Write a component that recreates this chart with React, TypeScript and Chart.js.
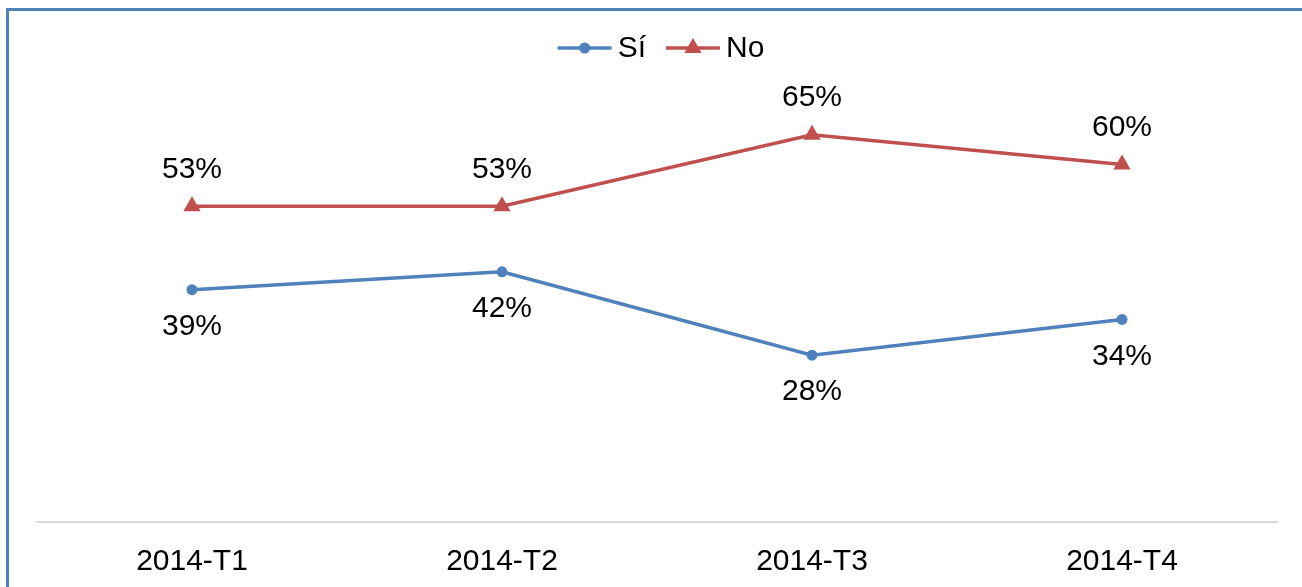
import React, { useEffect, useRef } from "react";
import { Chart, registerables } from "chart.js";

Chart.register(...registerables);

const categories = ["2014-T1", "2014-T2", "2014-T3", "2014-T4"];
const siValues = [39, 42, 28, 34];
const noValues = [53, 53, 65, 60];
const seriesNames = ["Sí", "No"];

const FONT = "'Liberation Sans', Arial, sans-serif";
const BLUE = "#4F81BD";
const RED = "#C0504D";

const labelsPlugin = {
  id: "valueLabels",
  afterDatasetsDraw(chart: any) {
    const ctx = chart.ctx;
    ctx.save();
    ctx.font = `30px ${FONT}`;
    ctx.fillStyle = "#000";
    ctx.textAlign = "center";
    ctx.textBaseline = "middle";
    chart.data.datasets.forEach((ds: any, di: number) => {
      const meta = chart.getDatasetMeta(di);
      meta.data.forEach((pt: any, i: number) => {
        const off = di === 0 ? 37 : -37;
        ctx.fillText(ds.data[i] + "%", pt.x, pt.y + off);
      });
    });
    ctx.restore();
  },
};

const legendPlugin = {
  id: "customLegend",
  afterDraw(chart: any) {
    const ctx = chart.ctx;
    ctx.save();
    ctx.font = `30px ${FONT}`;
    const lineLen = 54;
    const gapText = 6;
    const gapItem = 20;
    const items = chart.data.datasets.map((ds: any) => ({
      ds,
      w: ctx.measureText(ds.label).width,
    }));
    let total = 0;
    items.forEach((it: any, i: number) => {
      total += lineLen + gapText + it.w + (i < items.length - 1 ? gapItem : 0);
    });
    let x = 661 - total / 2;
    const y = 48;
    items.forEach((it: any) => {
      const ds = it.ds;
      ctx.strokeStyle = ds.borderColor;
      ctx.lineWidth = 3.5;
      ctx.beginPath();
      ctx.moveTo(x, y);
      ctx.lineTo(x + lineLen, y);
      ctx.stroke();
      ctx.fillStyle = ds.borderColor;
      const cx = x + lineLen / 2;
      if (ds.pointStyle === "triangle") {
        const r = 10;
        ctx.beginPath();
        ctx.moveTo(cx, y - r);
        ctx.lineTo(cx + r * 0.866, y + r / 2);
        ctx.lineTo(cx - r * 0.866, y + r / 2);
        ctx.closePath();
        ctx.fill();
      } else {
        ctx.beginPath();
        ctx.arc(cx, y, 5.5, 0, Math.PI * 2);
        ctx.fill();
      }
      ctx.fillStyle = "#000";
      ctx.textAlign = "left";
      ctx.textBaseline = "middle";
      ctx.fillText(ds.label, x + lineLen + gapText, y + 1);
      x += lineLen + gapText + it.w + gapItem;
    });
    ctx.restore();
  },
};

export default function App() {
  const canvasRef = useRef<HTMLCanvasElement | null>(null);

  useEffect(() => {
    const chart = new Chart(canvasRef.current as HTMLCanvasElement, {
      type: "line",
      data: {
        labels: categories,
        datasets: [
          {
            label: seriesNames[0],
            data: siValues,
            borderColor: BLUE,
            backgroundColor: BLUE,
            borderWidth: 3.5,
            pointStyle: "circle",
            pointRadius: 5.5,
            pointBorderWidth: 0,
            tension: 0,
          },
          {
            label: seriesNames[1],
            data: noValues,
            borderColor: RED,
            backgroundColor: RED,
            borderWidth: 3.5,
            pointStyle: "triangle",
            pointRadius: 10,
            pointBorderWidth: 0,
            tension: 0,
          },
        ],
      },
      options: {
        animation: false,
        responsive: false,
        maintainAspectRatio: false,
        layout: { padding: { left: 37, right: 25, top: 105, bottom: 0 } },
        plugins: {
          legend: { display: false },
          tooltip: { enabled: false },
        },
        scales: {
          x: {
            offset: true,
            grid: { display: false, drawTicks: false },
            border: { display: true, color: "#D9D9D9", width: 2 },
            ticks: {
              color: "#000",
              font: { family: FONT, size: 30 },
              padding: 22,
              maxRotation: 0,
            },
          },
          y: {
            display: false,
            min: 0,
            max: 70,
          },
        },
      },
      plugins: [labelsPlugin, legendPlugin],
    });
    return () => chart.destroy();
  }, []);

  return (
    <div
      style={{
        position: "fixed",
        left: 0,
        top: 0,
        width: 1302,
        height: 587,
        overflow: "hidden",
        background: "#fff",
      }}
    >
      <div
        style={{
          position: "absolute",
          left: 6,
          top: 8,
          width: 1400,
          height: 700,
          border: `3px solid ${BLUE}`,
          boxSizing: "border-box",
        }}
      />
      <canvas
        ref={canvasRef}
        width={1302}
        height={602}
        style={{ position: "absolute", left: 0, top: 0, width: 1302, height: 602 }}
      />
    </div>
  );
}
